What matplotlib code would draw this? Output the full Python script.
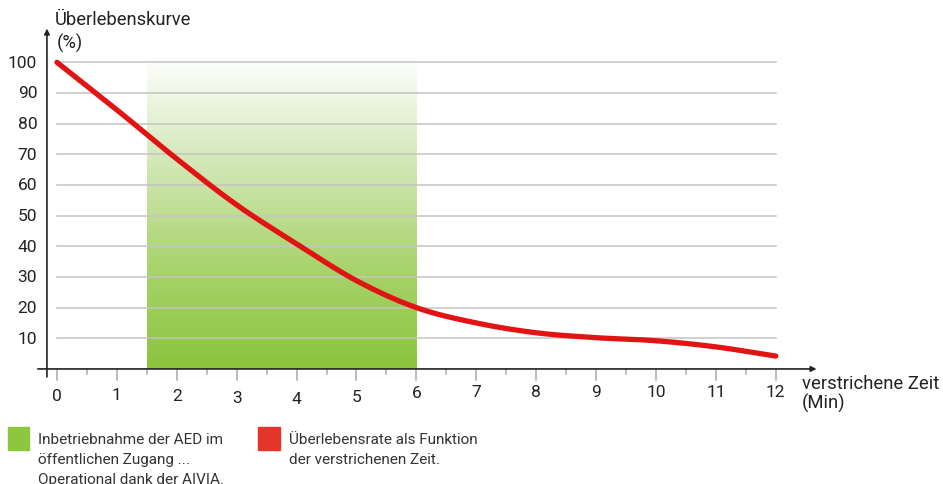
import numpy as np
import matplotlib.pyplot as plt
from matplotlib.colors import LinearSegmentedColormap

plt.rcParams['font.family'] = ['Roboto', 'DejaVu Sans']

# Daten
minutes = [0, 1, 2, 3, 4, 5, 6, 7, 8, 9, 10, 11, 12]
survival = [100, 84.5, 68.5, 53.5, 40.8, 28.8, 20, 15, 11.8, 10.2, 9.2, 7.2, 4.2]
aed_window = [1.5, 6]
y_ticks = [10, 20, 30, 40, 50, 60, 70, 80, 90, 100]
x_ticks = list(range(13))

legend_aed = "Inbetriebnahme der AED im\nöffentlichen Zugang ...\nOperational dank der AIVIA."
legend_curve = "Überlebensrate als Funktion\nder verstrichenen Zeit."

# etwas unruhige Lage der x-Beschriftungen (Pixel unter der Achse)
label_drop = [27, 26, 27, 29, 29.5, 28, 24, 22.5, 22.5, 22.5, 22.5, 22.5, 22.5]
px_per_unit = 3.067

fig = plt.figure(figsize=(9.43, 4.85), dpi=100)
ax = fig.add_axes([0.02863, 0.2056, 0.8576, 0.7587])
ax.axis("off")

# Gitterlinien
for yv in y_ticks:
    ax.plot([0, 12], [yv, yv], color="#c4c4c4", lw=1.1, zorder=1)

# grüner Bereich mit Verlauf
cmap = LinearSegmentedColormap.from_list("g", ["#ffffff", "#d3e8b8", "#a9d46e", "#8bc43d"])
grad = np.linspace(0, 1, 256).reshape(-1, 1)
ax.imshow(grad, extent=[aed_window[0], aed_window[1], 0, 102], cmap=cmap,
          aspect="auto", origin="upper", zorder=0.5)
ax.set_xlim(-0.5, 13)
ax.set_ylim(-5, 115)

# Kurve (Catmull-Rom geglättet)
xs = np.array(minutes, dtype=float)
ys = np.array(survival, dtype=float)
px, py = [], []
xe = np.concatenate([[2 * xs[0] - xs[1]], xs, [2 * xs[-1] - xs[-2]]])
ye = np.concatenate([[2 * ys[0] - ys[1]], ys, [2 * ys[-1] - ys[-2]]])
for i in range(1, len(xe) - 2):
    t = np.linspace(0, 1, 20)
    for arr, out in ((xe, px), (ye, py)):
        p0, p1, p2, p3 = arr[i - 1], arr[i], arr[i + 1], arr[i + 2]
        out.extend(0.5 * ((2 * p1) + (-p0 + p2) * t + (2 * p0 - 5 * p1 + 4 * p2 - p3) * t ** 2
                          + (-p0 + 3 * p1 - 3 * p2 + p3) * t ** 3))
ax.plot(px, py, color="#e21413", lw=3.8, solid_capstyle="round", zorder=3)

# Achsen mit Pfeilen
ax.annotate("", xy=(12.68, 0), xytext=(-0.32, 0),
            arrowprops=dict(arrowstyle="-|>", color="#222222", lw=1.2,
                            mutation_scale=8, shrinkA=0, shrinkB=0))
ax.annotate("", xy=(-0.167, 111), xytext=(-0.167, -2.6),
            arrowprops=dict(arrowstyle="-|>", color="#222222", lw=1.2,
                            mutation_scale=8, shrinkA=0, shrinkB=0))

# Ticks
for xv, drop in zip(x_ticks, label_drop):
    ax.plot([xv, xv], [0, -3.6], color="#aaaaaa", lw=1.1, zorder=2)
    ax.text(xv, -drop / px_per_unit, str(xv), ha="center", va="center",
            fontsize=12.5, color="#222222")
for xv in np.arange(0.5, 12, 1):
    ax.plot([xv, xv], [0, -1.7], color="#aaaaaa", lw=1.1, zorder=2)
for yv in y_ticks:
    ax.text(-0.33, yv, str(yv), ha="right", va="center", fontsize=12.5, color="#222222")

# Achsenbeschriftungen
fig.text(55 / 943, 1 - 20 / 485, "Überlebenskurve", fontsize=13.2, color="#222222", va="center")
fig.text(57 / 943, 1 - 43 / 485, "(%)", fontsize=13.2, color="#222222", va="center")
fig.text(802 / 943, 1 - 384 / 485, "verstrichene Zeit", fontsize=13.3, color="#222222", va="center")
fig.text(802 / 943, 1 - 403 / 485, "(Min)", fontsize=13.3, color="#222222", va="center")

# Legende
fig.patches.append(plt.Rectangle((8 / 943, 1 - 451 / 485), 21 / 943, 23 / 485,
                                 transform=fig.transFigure, color="#8dc63f"))
fig.patches.append(plt.Rectangle((258 / 943, 1 - 451 / 485), 22 / 943, 23 / 485,
                                 transform=fig.transFigure, color="#e5352b"))
fig.text(38 / 943, 1 - 433 / 485, legend_aed, fontsize=11, color="#333333",
         va="top", linespacing=1.55)
fig.text(289 / 943, 1 - 433 / 485, legend_curve, fontsize=11, color="#333333",
         va="top", linespacing=1.55)

fig.savefig("out.png", dpi=100)
